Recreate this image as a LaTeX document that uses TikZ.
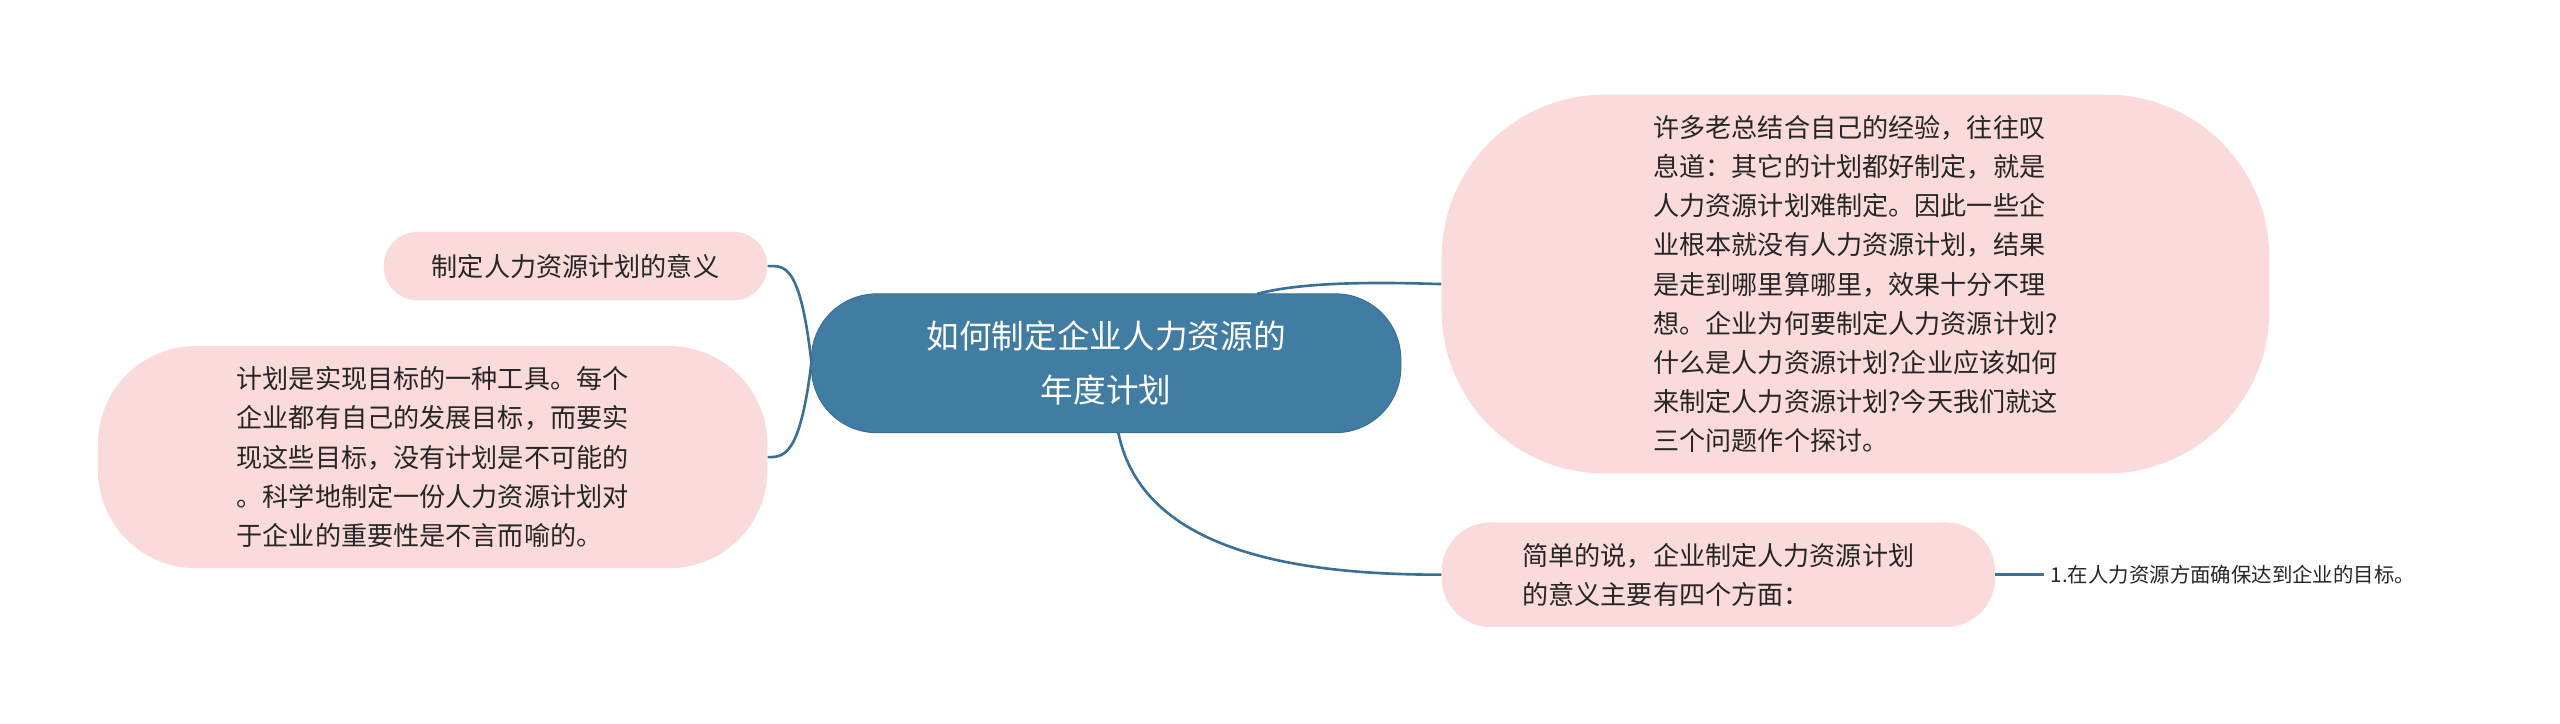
\documentclass[tikz,border=0pt]{standalone}
\usepackage{fontspec}
\newfontfamily\cjk{Noto Sans CJK SC}
\definecolor{pinkbg}{HTML}{FADADB}
\definecolor{mainbl}{HTML}{417CA2}
\definecolor{linec}{HTML}{3A7095}
\begin{document}
\begin{tikzpicture}[x=1pt,y=-1pt,
  pillbox/.style={fill=pinkbg,draw=none,font=\cjk\fontsize{16}{24}\selectfont,text=black!85,align=left,inner sep=0pt},
  conn/.style={draw=linec,line width=1.6pt}]
\useasboundingbox[fill=white] (0,0) rectangle (1568,443);
\node[fill=mainbl,draw=linec,line width=0.6pt,rounded corners=40pt,minimum width=361pt,minimum height=85pt,text=white,align=center,font=\cjk\fontsize{20}{33}\selectfont] (c) at (677.5,222.5) {如何制定企业人力资源的\\年度计划};
\node[pillbox,rounded corners=21pt,minimum width=235pt,minimum height=42pt] (a) at (352.5,163) {制定人力资源计划的意义};
\node[pillbox,rounded corners=60pt,minimum width=410pt,minimum height=136pt] (b) at (265,280) {计划是实现目标的一种工具。每个\\企业都有自己的发展目标，而要实\\现这些目标，没有计划是不可能的\\。科学地制定一份人力资源计划对\\于企业的重要性是不言而喻的。};
\node[pillbox,rounded corners=100pt,minimum width=507pt,minimum height=232pt] (r) at (1136.5,174) {许多老总结合自己的经验，往往叹\\息道：其它的计划都好制定，就是\\人力资源计划难制定。因此一些企\\业根本就没有人力资源计划，结果\\是走到哪里算哪里，效果十分不理\\想。企业为何要制定人力资源计划?\\什么是人力资源计划?企业应该如何\\来制定人力资源计划?今天我们就这\\三个问题作个探讨。};
\node[pillbox,rounded corners=30pt,minimum width=339pt,minimum height=64pt] (s) at (1052.5,352) {简单的说，企业制定人力资源计划\\的意义主要有四个方面：};
\node[font=\cjk\fontsize{12.5}{16}\selectfont,text=black!85,anchor=west,inner sep=0pt] (l) at (1256,352) {1.在人力资源方面确保达到企业的目标。};
\coordinate (c1) at (497,222);
\coordinate (c2) at (770,180);
\coordinate (c3) at (685,265);
\draw[conn] (c1) .. controls (490,160) and (480,163) .. (a.east);
\draw[conn] (c1) .. controls (490,280) and (480,280) .. (b.east);
\draw[conn] (c2) .. controls (800,172) and (850,173) .. (r.west);
\draw[conn] (c3) .. controls (700,340) and (800,352) .. (s.west);
\draw[conn] (s.east) -- ([xshift=-4pt]l.west);
\end{tikzpicture}
\end{document}
